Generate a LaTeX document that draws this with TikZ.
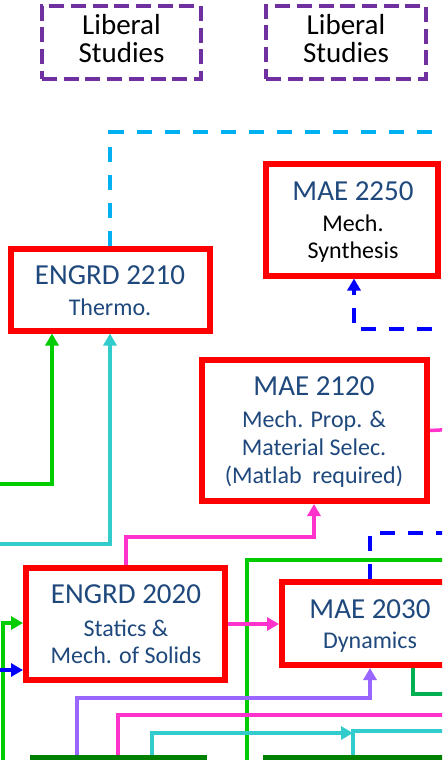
\documentclass[tikz,border=0pt]{standalone}
\usepackage{fontspec}
\setmainfont{Carlito}
\usetikzlibrary{arrows.meta}
\definecolor{boxred}{RGB}{255,0,0}
\definecolor{lspurple}{RGB}{112,48,160}
\definecolor{txtblue}{RGB}{31,73,125}
\definecolor{skyblue}{RGB}{0,176,240}
\definecolor{pureblue}{RGB}{0,0,255}
\definecolor{brightgreen}{RGB}{0,204,0}
\definecolor{midgreen}{RGB}{0,176,80}
\definecolor{turq}{RGB}{51,204,204}
\definecolor{pinkline}{RGB}{255,51,204}
\definecolor{lavender}{RGB}{153,102,255}
\definecolor{darkgreen}{RGB}{0,128,0}
\tikzset{
  course/.style={draw=boxred, line width=6pt, rectangle, inner sep=0pt},
  libbox/.style={draw=lspurple, line width=4pt, rectangle, inner sep=0pt, dash pattern=on 15pt off 6.7pt},
  lowbox/.style={draw=darkgreen, line width=5pt, rectangle, inner sep=0pt},
  ttl/.style={anchor=base, inner sep=0pt, text=txtblue, font=\fontsize{29}{29}\selectfont},
  sub/.style={anchor=base, inner sep=0pt, text=txtblue, font=\fontsize{24}{24}\selectfont},
  subk/.style={anchor=base, inner sep=0pt, text=black, font=\fontsize{24}{24}\selectfont},
  libtxt/.style={anchor=base, inner sep=0pt, text=black, font=\fontsize{29}{29}\selectfont},
  conn/.style={line width=3.5pt},
  dconn/.style={line width=4pt, dash pattern=on 15pt off 13pt},
  tip/.style={-{Triangle[length=12pt,width=13pt]}},
}
\begin{document}
\begin{tikzpicture}[x=1pt,y=-1pt]
\clip (0,0) rectangle (442,760);
\fill[white] (0,0) rectangle (442,760);

% Liberal studies boxes
\node[libbox, minimum width=159pt, minimum height=73pt] (ls1) at (121.5,42.5) {};
\node[libbox, minimum width=160pt, minimum height=73pt] (ls2) at (346,42.5) {};
\node[libtxt] (ls1a) at (121.5,35) {Liberal};
\node[libtxt] (ls1b) at (121.5,63) {Studies};
\node[libtxt] (ls2a) at (346,35) {Liberal};
\node[libtxt] (ls2b) at (346,63) {Studies};

% course boxes
\node[course, minimum width=199pt, minimum height=82pt] (e2210) at (110,289.5) {};
\node[ttl] (e2210a) at (110,284) {ENGRD 2210};
\node[sub] (e2210b) at (110,315) {Thermo.};

\node[course, minimum width=172pt, minimum height=112pt] (m2250) at (351.5,219.5) {};
\node[ttl] (m2250a) at (353,200) {MAE 2250};
\node[subk] (m2250b) at (353,231) {Mech.};
\node[subk] (m2250c) at (353,258) {Synthesis};

\node[course, minimum width=225pt, minimum height=141pt] (m2120) at (314.5,430.5) {};
\node[ttl] (m2120a) at (314,395) {MAE 2120};
\node[sub] (m2120b) at (314,427) {Mech. Prop. \&};
\node[sub] (m2120c) at (314,455) {Material Selec.};
\node[sub] (m2120d) at (314,483) {(Matlab\ \ required)};

\node[course, minimum width=199pt, minimum height=112pt] (e2020) at (125.5,624) {};
\node[ttl] (e2020a) at (126,603) {ENGRD 2020};
\node[sub] (e2020b) at (126,636) {Statics \&};
\node[sub] (e2020c) at (126,663) {Mech. of Solids};

\node[course, minimum width=176pt, minimum height=83pt] (m2030) at (370,623.5) {};
\node[ttl] (m2030a) at (370,618) {MAE 2030};
\node[sub] (m2030b) at (370,648) {Dynamics};

% lower boxes (only top edges visible)
\node[lowbox, minimum width=172pt, minimum height=85pt] (g1) at (118.5,800) {};
\node[lowbox, minimum width=190pt, minimum height=85pt] (g2) at (360.5,800) {};

% free ends
\coordinate (cyR) at (460,132);
\coordinate (blR) at (460,329);
\coordinate (grL) at (-10,484);
\coordinate (tqL) at (-10,544);
\coordinate (pkR) at (460,429);
\coordinate (bl2R) at (460,533);
\coordinate (bgB) at (247,780);
\coordinate (bgR) at (460,560);
\coordinate (glB) at (3,780);
\coordinate (blL) at (-10,670);
\coordinate (dgR) at (460,694);
\coordinate (pk2R) at (460,715);
\coordinate (tq2R) at (460,731);

% connectors
\draw[dconn, skyblue] (e2210.north) -- (110,132) -- (cyR);
\draw[dconn, pureblue, tip] (blR) -- (354,329) -- (354,329 -| 354,0) -- (m2250.south -| 354,0);
\draw[conn, brightgreen, tip] (grL) -- (52,484) -- (e2210.south -| 52,0);
\draw[conn, turq, tip] (tqL) -- (110,544) -- (e2210.south);
\draw[conn, pinkline, tip] (e2020.north -| 126,0) -- (126,537) -- (314,537) -- (m2120.south -| 314,0);
\draw[conn, pinkline] (m2120.east) -- (pkR);
\draw[dconn, pureblue] (m2030.north) -- (370,533) -- (bl2R);
\draw[conn, brightgreen] (bgB) -- (247,560) -- (bgR);
\draw[conn, pinkline, tip] (e2020.east) -- (e2020.east -| m2030.west);
\draw[conn, brightgreen, tip] (glB) -- (3,623) -- (e2020.west |- 0,623);
\draw[conn, pureblue, tip] (blL) -- (e2020.west |- 0,670);
\draw[conn, midgreen] (m2030.south -| 413,0) -- (413,694) -- (dgR);
\draw[conn, lavender, tip] (g1.north -| 77,0) -- (77,698) -- (370,698) -- (m2030.south);
\draw[conn, pinkline] (g1.north -| 118,0) -- (118,715) -- (pk2R);
\draw[conn, turq, tip] (g1.north -| 152,0) -- (152,733) -- (353,733);
\draw[conn, turq] (g2.north -| 353,0) -- (353,731) -- (tq2R);
\end{tikzpicture}
\end{document}
